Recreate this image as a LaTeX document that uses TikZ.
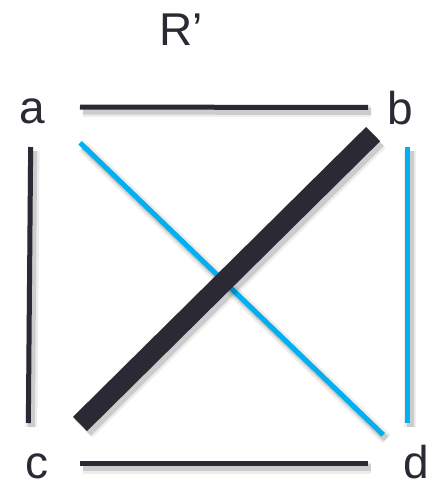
\documentclass[tikz,border=0pt]{standalone}
\usepackage{fontspec}
\setmainfont{Liberation Sans}
\usepackage{tikz}
\usetikzlibrary{positioning, calc}

\definecolor{inkdark}{RGB}{43,42,52}
\definecolor{skyblue}{RGB}{0,176,240}

\tikzset{
  lettr/.style={font=\fontsize{46}{50}\selectfont, text=inkdark, inner sep=0pt, text height=33pt, text depth=0pt, anchor=base},
  softshadow/.style={
    preaction={draw=black, draw opacity=0.07, line width=#1+7pt, transform canvas={shift={(3pt,-4pt)}}},
    preaction={draw=black, draw opacity=0.14, line width=#1+2pt, transform canvas={shift={(3pt,-4pt)}}}},
  edge/.style={draw=inkdark, line width=5pt, softshadow=5pt},
  blueedge/.style={draw=skyblue, line width=5pt, softshadow=5pt},
  heavy/.style={draw=inkdark, line width=20pt, softshadow=20pt}
}

\begin{document}
\begin{tikzpicture}[x=1pt, y=-1pt]
\useasboundingbox (0,0) rectangle (436,482);

% labels
\node[lettr] (title) at (181,45) {R’};
\node[lettr] (a) at (32,123) {a};
\node[lettr] (b) at (400,124) {b};
\node[lettr] (c) at (37,478.5) {c};
\node[lettr] (d) at (416,478.5) {d};

% edges of R'
\draw[edge, shorten <=48pt, shorten >=32pt] ([yshift=-0.5pt]a.center) -- (b.center);
\draw[edge, shorten <=43pt, shorten >=48pt] ([yshift=-1.5pt]c.center) -- ([yshift=-1.5pt]d.center);
\draw[edge, shorten <=40.5pt, shorten >=40.5pt] ([xshift=-1pt]a.center) -- ([xshift=-9pt, yshift=-1.5pt]c.center);
\draw[blueedge, shorten <=39.5pt, shorten >=40.5pt] ([xshift=7pt]b.center) -- ([xshift=-9pt, yshift=-1.5pt]d.center);
\draw[blueedge, shorten <=66.8pt, shorten >=45.6pt] ([yshift=10pt]a.center) -- ([yshift=-4.5pt]d.center);
\draw[heavy, shorten <=60.5pt, shorten >=37.8pt] ([yshift=-4.5pt]c.center) -- (b.center);
\end{tikzpicture}
\end{document}
